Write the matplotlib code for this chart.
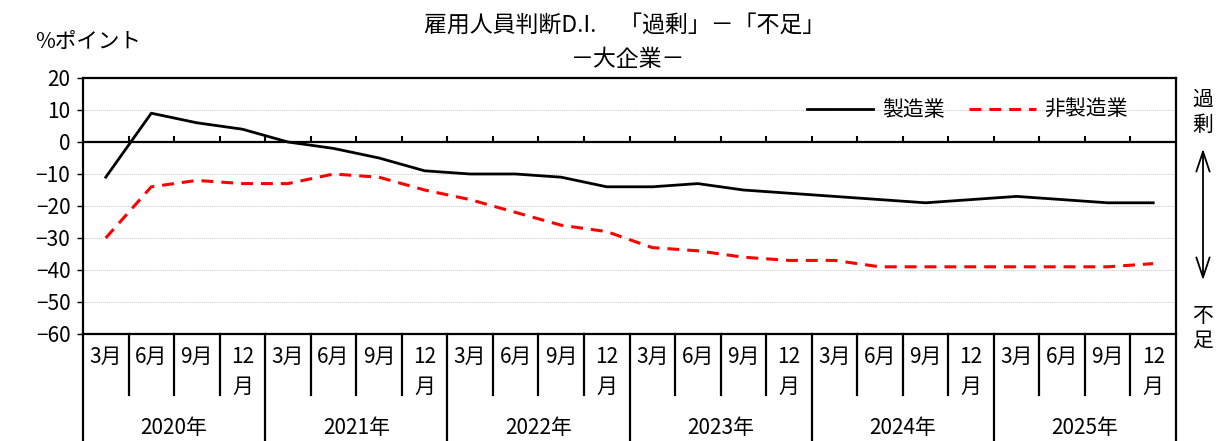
import matplotlib
matplotlib.use('Agg')
import matplotlib.pyplot as plt
import matplotlib.transforms as mtransforms
from matplotlib.patches import FancyArrowPatch
import numpy as np

plt.rcParams['font.family'] = ['Noto Sans CJK JP', 'DejaVu Sans']

years = ['2020年', '2021年', '2022年', '2023年', '2024年', '2025年']
months = ['3月', '6月', '9月', '12\n月']
manufacturing = [-11, 9, 6, 4, 0, -2, -5, -9, -10, -10, -11, -14,
                 -14, -13, -15, -16, -17, -18, -19, -18, -17, -18, -19, -19]
non_manufacturing = [-30, -14, -12, -13, -13, -10, -11, -15, -18, -22, -26, -28,
                     -33, -34, -36, -37, -37, -39, -39, -39, -39, -39, -39, -38]

W, H = 1216, 441
fig = plt.figure(figsize=(W / 100, H / 100), dpi=100)
left, right, top, bottom = 83, 1176, 78, 334
ax = fig.add_axes([left / W, 1 - bottom / H, (right - left) / W, (bottom - top) / H])

n = len(manufacturing)
x = np.arange(n)
ax.set_xlim(-0.5, n - 0.5)
ax.set_ylim(-60, 20)
ax.set_yticks(range(-60, 21, 10))
ax.set_xticks([])
ax.tick_params(axis='y', labelsize=15, length=4, width=1, pad=5)
for s in ax.spines.values():
    s.set_linewidth(1.6)

for v in [10, -10, -20, -30, -40, -50]:
    ax.axhline(v, color='#c8c8c8', lw=0.7, ls=(0, (1, 1)), zorder=1)
ax.axhline(0, color='black', lw=1.6, zorder=2)
ax.vlines(np.arange(1, n) - 0.5, 0, 1.8, color='black', lw=1.5, zorder=2)

ax.plot(x, manufacturing, color='black', lw=2, label='製造業', zorder=3)
ax.plot(x, non_manufacturing, color='#ff0000', lw=2.2, ls=(0, (3.9, 2.6)),
        label='非製造業', zorder=3)

ax.legend(loc='center right', bbox_to_anchor=(0.956, 0.875), frameon=False,
          ncol=2, fontsize=15, handlelength=3.2, handletextpad=0.4,
          columnspacing=1.2, borderpad=0, borderaxespad=0)

# category axis below the plot
trans = mtransforms.blended_transform_factory(ax.transData, ax.transAxes)
for i in range(n):
    lab = months[i % 4]
    if '\n' in lab:
        top_lab, bot_lab = lab.split('\n')
        ax.text(i, -0.09, top_lab, transform=trans, ha='center', va='center', fontsize=15)
        ax.text(i, -0.207, bot_lab, transform=trans, ha='center', va='center', fontsize=15)
    else:
        ax.text(i, -0.09, lab, transform=trans, ha='center', va='center', fontsize=15)
for k, yr in enumerate(years):
    ax.text(4 * k + 1.5, -0.367, yr, transform=trans, ha='center', va='center', fontsize=15)
for b in range(n + 1):
    xb = b - 0.5
    ylow = -0.42 if b % 4 == 0 else -0.238
    ax.plot([xb, xb], [0, ylow], transform=trans, color='black', lw=1.6, clip_on=False)

# titles and side labels
fig.text(625 / W, 1 - 25 / H, '雇用人員判断D.I.　「過剰」－「不足」', ha='center', va='center', fontsize=16.5)
fig.text(628 / W, 1 - 60 / H, '－大企業－', ha='center', va='center', fontsize=16.5)
fig.text(35 / W, 1 - 42 / H, '%ポイント', ha='left', va='center', fontsize=15.5)
fig.text(1203 / W, 1 - 100 / H, '過', ha='center', va='center', fontsize=15)
fig.text(1203 / W, 1 - 125 / H, '剰', ha='center', va='center', fontsize=15)
fig.text(1203 / W, 1 - 316 / H, '不', ha='center', va='center', fontsize=15)
fig.text(1203 / W, 1 - 341 / H, '足', ha='center', va='center', fontsize=15)
fig.patches.append(FancyArrowPatch(
    (1203 / W, 1 - 146 / H), (1203 / W, 1 - 283 / H), transform=fig.transFigure,
    arrowstyle='<->,head_length=0.9,head_width=0.3', mutation_scale=16,
    color='black', lw=1.3))

fig.savefig('out.png', dpi=100)
